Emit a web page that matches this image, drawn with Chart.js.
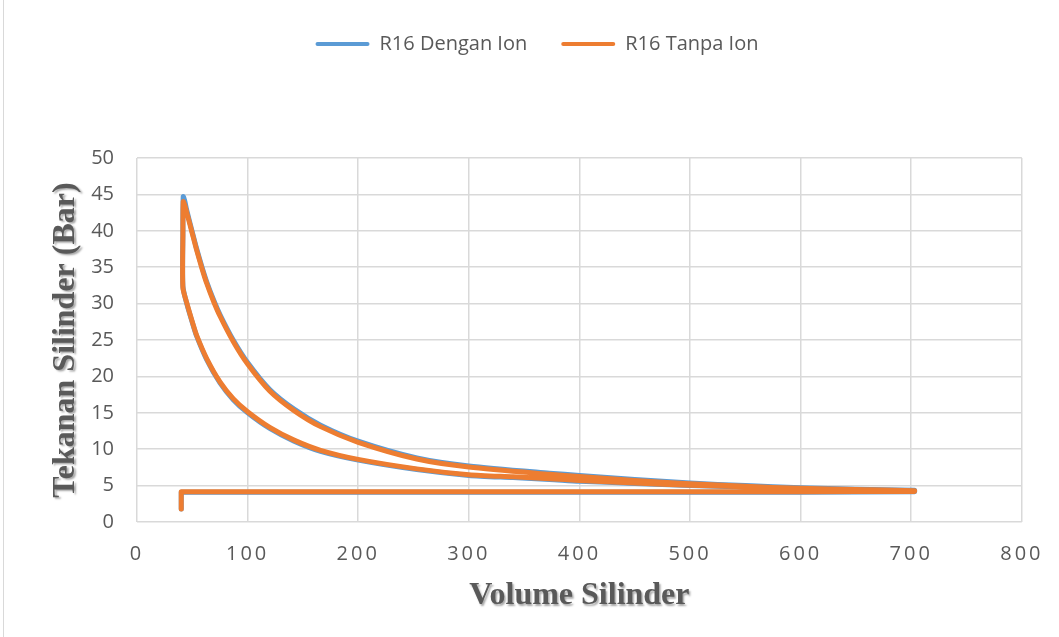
<!DOCTYPE html>
<html>
<head>
<meta charset="utf-8">
<script src="https://cdn.jsdelivr.net/npm/chart.js@4"></script>
<style>
  html, body { margin: 0; padding: 0; background: #fff; }
  #wrap { position: relative; width: 1059px; height: 637px; }
  #frame { position: absolute; left: 3px; top: -1px; width: 1060px; height: 639px; border: 1px solid #d9d9d9; box-sizing: border-box; pointer-events: none; }
</style>
</head>
<body>
<div id="wrap">
  <canvas id="pvChart" width="1059" height="637"></canvas>
  <div id="frame"></div>
</div>
<script>
// R16 Dengan Ion: intake -> compression -> combustion -> expansion
// (some corner points are repeated so the curve keeps a sharp corner there)
const volDengan = [40, 40, 40, 100, 200, 300, 400, 500, 600, 703, 703,
  703, 650, 600, 550, 500, 450, 400, 373, 340, 300, 253, 200, 166, 142, 120, 100, 87, 75, 63, 54, 51, 45, 41.5,
  41.5, 41.8,
  43, 45, 49.7, 54, 58.8, 63, 69, 75, 87, 100, 120, 142, 166, 200, 253, 300, 373, 400, 450, 500, 550, 600, 650, 703];
const presDengan = [1.8, 4.1, 4.1, 4.1, 4.1, 4.1, 4.1, 4.1, 4.1, 4.15, 4.15,
  4.3, 4.45, 4.6, 4.8, 5.0, 5.3, 5.6, 5.85, 6.1, 6.4, 7.2, 8.5, 9.7, 11.1, 12.85, 15.0, 16.8, 19.1, 22.3, 25.5, 26.9, 30.0, 32.4,
  40.0, 44.7,
  44.2, 42.8, 40.0, 37.5, 35.0, 33.0, 30.6, 28.5, 25.0, 21.9, 18.2, 15.5, 13.3, 11.1, 8.8, 7.7, 6.7, 6.4, 5.85, 5.35, 5.0, 4.7, 4.5, 4.35];

// R16 Tanpa Ion
const volTanpa = [40, 40, 40, 100, 200, 300, 400, 500, 600, 703, 703,
  703, 650, 600, 550, 500, 450, 400, 373, 340, 300, 253, 200, 166, 142, 120, 100, 87, 75, 63, 54, 51, 45, 41.5,
  41.5, 41.8,
  43, 45, 49.7, 54, 58.8, 63, 69, 75, 87, 100, 120, 142, 166, 200, 253, 300, 373, 400, 450, 500, 550, 600, 650, 703];
const presTanpa = [1.8, 4.15, 4.15, 4.15, 4.15, 4.15, 4.15, 4.15, 4.15, 4.2, 4.2,
  4.3, 4.45, 4.65, 4.85, 5.05, 5.35, 5.7, 5.95, 6.2, 6.5, 7.3, 8.6, 9.85, 11.25, 13.0, 15.15, 16.95, 19.25, 22.45, 25.6, 27.0, 30.1, 32.2,
  39.5, 44.0,
  43.6, 42.5, 39.8, 37.3, 34.8, 32.8, 30.4, 28.3, 24.8, 21.7, 18.0, 15.3, 13.1, 10.95, 8.65, 7.55, 6.55, 6.25, 5.7, 5.25, 4.9, 4.62, 4.45, 4.3];

const xTicks = [0, 100, 200, 300, 400, 500, 600, 700, 800];
const yTicks = [0, 5, 10, 15, 20, 25, 30, 35, 40, 45, 50];

const toPoints = (vs, ps) => vs.map((v, i) => ({ x: v, y: ps[i] }));

const tickFont = { family: '"Open Sans", sans-serif', size: 20 };
const titleFont = { family: '"Liberation Serif", serif', size: 32, weight: 'bold' };
const textColor = '#595959';
const gridColor = '#d9d9d9';

// letter spacing for x ticks and soft shadow for axis titles
const scaleStyle = {
  id: 'scaleStyle',
  beforeDraw(chart) {
    Object.values(chart.scales).forEach(s => {
      if (s._styled) return;
      const drawTitle = s.drawTitle;
      s.drawTitle = function (area) {
        const c = this.ctx;
        c.save();
        c.shadowColor = 'rgba(0,0,0,0.35)';
        c.shadowOffsetX = 1.5;
        c.shadowOffsetY = 1.5;
        c.shadowBlur = 2;
        drawTitle.call(this, area);
        c.restore();
      };
      if (s.axis === 'x') {
        const drawLabels = s.drawLabels;
        s.drawLabels = function (area) {
          const c = this.ctx;
          c.save();
          c.letterSpacing = '3px';
          drawLabels.call(this, area);
          c.restore();
        };
      }
      s._styled = true;
    });
  }
};

// taller legend block, leaving the gap above the plot
const legendHeight = {
  id: 'legendHeight',
  beforeInit(chart) {
    const fit = chart.legend.fit;
    chart.legend.fit = function () {
      fit.call(this);
      this.height = 158;
    };
  }
};

const ctx = document.getElementById('pvChart');
const myChart = new Chart(ctx, { //eslint-disable-line
  type: 'scatter',
  data: {
    datasets: [{
      label: 'R16 Dengan Ion',
      data: toPoints(volDengan, presDengan),
      borderColor: '#5B9BD5',
      backgroundColor: '#5B9BD5',
      order: 1
    }, {
      label: 'R16 Tanpa Ion',
      data: toPoints(volTanpa, presTanpa),
      borderColor: '#ED7D31',
      backgroundColor: '#ED7D31',
      order: 0
    }]
  },
  options: {
    responsive: false,
    animation: false,
    showLine: true,
    layout: { padding: { left: 47, right: 32, top: 0, bottom: 22 } },
    elements: {
      point: { radius: 0, hoverRadius: 0 },
      line: { borderWidth: 5, tension: 0.25, borderCapStyle: 'round', borderJoinStyle: 'round', fill: false }
    },
    plugins: {
      tooltip: { enabled: false },
      legend: {
        position: 'top',
        labels: {
          font: tickFont,
          color: textColor,
          boxWidth: 54,
          boxHeight: 4,
          padding: 34,
          generateLabels(chart) {
            const items = Chart.defaults.plugins.legend.labels.generateLabels(chart);
            items.forEach(it => { it.lineWidth = 0; it.borderRadius = 2; });
            return items.sort((a, b) => a.datasetIndex - b.datasetIndex);
          }
        }
      }
    },
    scales: {
      x: {
        type: 'linear',
        min: xTicks[0],
        max: xTicks[xTicks.length - 1],
        afterBuildTicks: axis => { axis.ticks = xTicks.map(v => ({ value: v })); },
        afterFit: axis => { axis.height = 93; },
        grid: { color: gridColor, lineWidth: 1.5, drawTicks: false },
        border: { display: false },
        ticks: { font: tickFont, color: textColor, padding: 20 },
        title: { display: true, text: 'Volume Silinder', font: titleFont, color: textColor, padding: { top: 13, bottom: 0 } }
      },
      y: {
        type: 'linear',
        min: yTicks[0],
        max: yTicks[yTicks.length - 1],
        afterBuildTicks: axis => { axis.ticks = yTicks.map(v => ({ value: v })); },
        afterFit: axis => { axis.width = 90; },
        grid: { color: gridColor, lineWidth: 1.5, drawTicks: false },
        border: { display: false },
        ticks: { font: tickFont, color: textColor, padding: 23 },
        title: { display: true, text: 'Tekanan Silinder (Bar)', font: titleFont, color: textColor, padding: { top: 0, bottom: 0 } }
      }
    }
  },
  plugins: [scaleStyle, legendHeight]
});
</script>
</body>
</html>
